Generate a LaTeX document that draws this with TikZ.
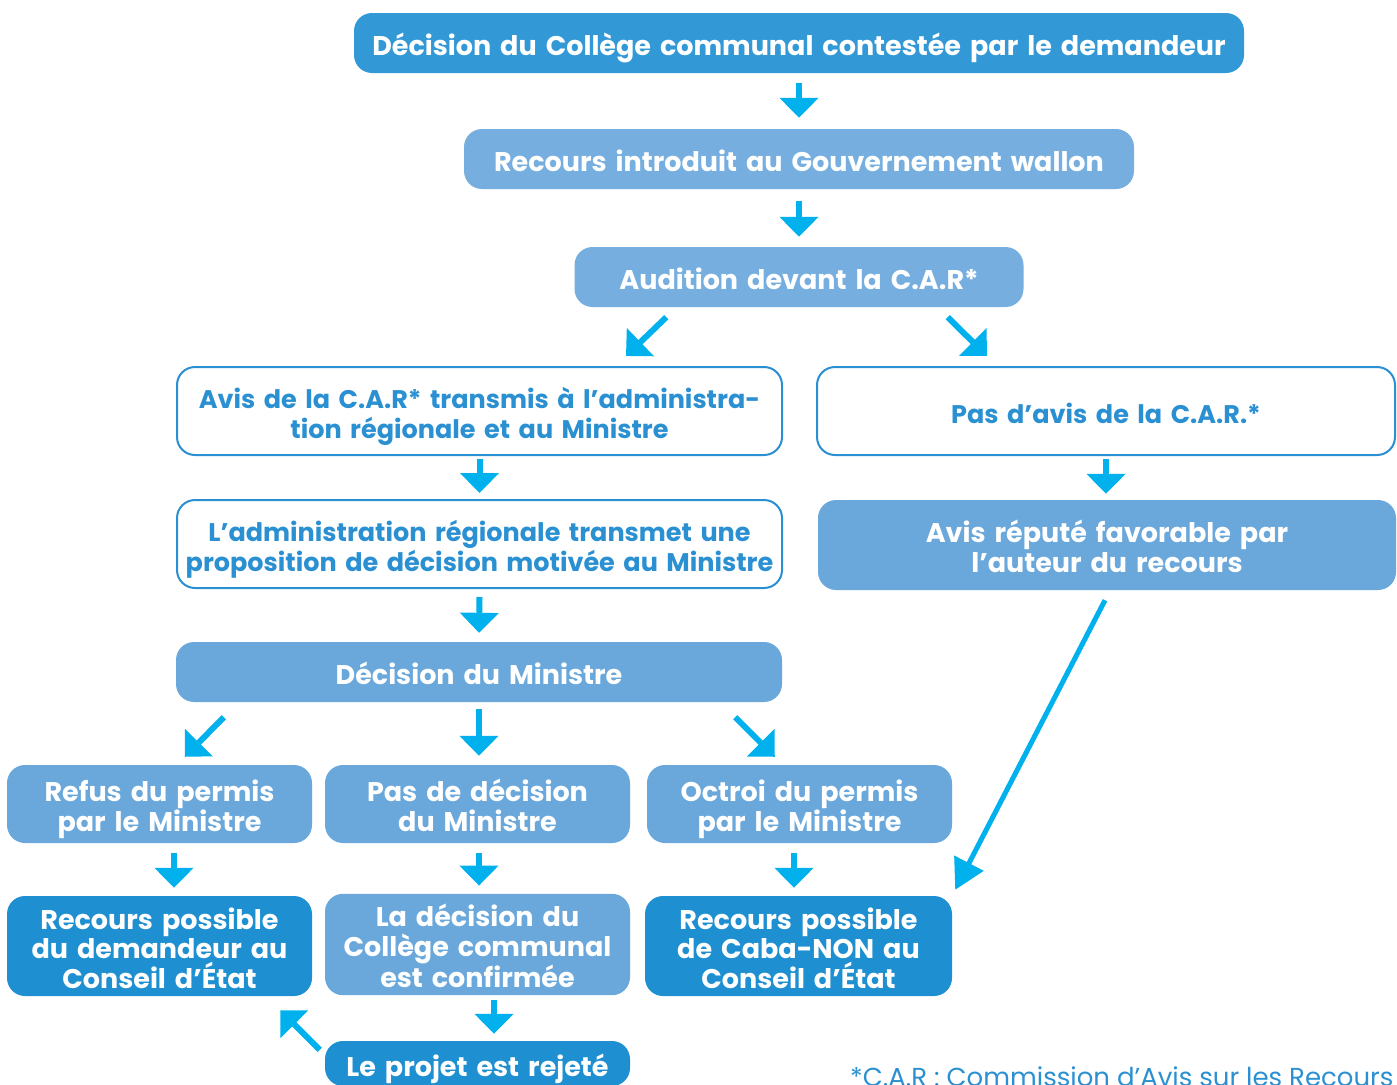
\documentclass[tikz,border=0pt]{standalone}
\usepackage{fontspec}
\setmainfont{Poppins}
\usetikzlibrary{arrows.meta,calc}

\definecolor{topblue}{HTML}{3399D6}
\definecolor{paleblue}{HTML}{76AFDF}
\definecolor{midblue}{HTML}{6AA8DC}
\definecolor{deepblue}{HTML}{1E8FD0}
\definecolor{lineblue}{HTML}{2A90D2}
\definecolor{arrowblue}{HTML}{00B1EE}
\newcommand{\boxfont}{\fontsize{27}{29.5}\selectfont\bfseries}
\newcommand{\framefont}{\fontsize{25.5}{29.5}\selectfont\bfseries}

\begin{document}
\begin{tikzpicture}[x=1pt,y=-1pt,
	box/.style={rectangle,rounded corners=18pt,inner sep=0pt,align=center,
		text width=\pgfkeysvalueof{/pgf/minimum width}-2,
		execute at begin node={\hyphenpenalty=10000\rule{0pt}{33pt}},
		execute at end node={\rule[-8pt]{0pt}{8pt}},
		text=white,font=\boxfont},
	filled/.style={box,fill=#1},
	outlined/.style={box,draw=lineblue,line width=2pt,fill=white,text=lineblue,
		font=\framefont},
	arr/.style={line width=6pt,arrowblue,-{Triangle[width=38pt,length=20pt]}},
	longarr/.style={line width=5pt,arrowblue,-{Triangle[width=32pt,length=30pt]}}]
	\useasboundingbox (0,0) rectangle (1397,1084);
	% upper part
	\node[filled=topblue,minimum width=890,minimum height=60] (top) at (799,43)
		{Décision du Collège communal contestée par le demandeur};
	\node[filled=paleblue,minimum width=670,minimum height=60] (intro) at (799,159)
		{Recours introduit au Gouvernement wallon};
	\node[filled=paleblue,minimum width=449,minimum height=60] (aud) at (799,277)
		{Audition devant la C.A.R*};
	\node[outlined,minimum width=605,minimum height=88] (avis) at (479.5,411)
		{Avis de la C.A.R* transmis à l’administra-\\tion régionale et au Ministre};
	\node[outlined,minimum width=578,minimum height=88] (pasavis) at (1106,411)
		{Pas d’avis de la C.A.R.*};
	\node[outlined,minimum width=605,minimum height=88] (admin) at (479.5,544)
		{L’administration régionale transmet une\\proposition de décision motivée au Ministre};
	\node[filled=midblue,minimum width=578,minimum height=90] (repute) at (1107,545)
		{Avis réputé favorable par\\l’auteur du recours};
	\node[filled=midblue,minimum width=606,minimum height=60] (dec) at (479,672)
		{Décision du Ministre};
	% lower part
	\node[filled=midblue,minimum width=305,minimum height=78] (refus) at (159.5,804)
		{Refus du permis\\par le Ministre};
	\node[filled=midblue,minimum width=305,minimum height=78] (pasdec) at (477.5,804)
		{Pas de décision\\du Ministre};
	\node[filled=midblue,minimum width=305,minimum height=78] (octroi) at (799.5,804)
		{Octroi du permis\\par le Ministre};
	\node[filled=deepblue,minimum width=305,minimum height=100] (recdem) at (159.5,946)
		{Recours possible\\du demandeur au\\Conseil d’État};
	\node[filled=midblue,minimum width=305,minimum height=97] (conf) at (477.5,944.5)
		{La décision du\\Collège communal\\est confirmée};
	\node[filled=deepblue,minimum width=307,minimum height=100] (reccaba) at (798.5,946)
		{Recours possible\\de Caba-NON au\\Conseil d’État};
	\node[filled=deepblue,minimum width=305,minimum height=45] (rejete) at (477.5,1063.5)
		{Le projet est rejeté};
	\node[anchor=base west,text=lineblue,font=\fontsize{26}{28}\selectfont,inner sep=0pt]
		(note) at (850,1086) {*C.A.R : Commission d’Avis sur les Recours};

	\draw[arr] ($(top.south)+(0,10)$) -- ($(intro.north)+(0,-11)$);
	\draw[arr] ($(intro.south)+(0,12)$) -- ($(aud.north)+(0,-10)$);
	\draw[arr] ($(aud.south west)+(92,10)$) -- ($(avis.north west)+(450,-10)$);
	\draw[arr] ($(aud.south east)+(-76,10)$) -- ($(pasavis.north west)+(171,-10)$);
	\draw[arr] ($(avis.south)+(0,3)$) -- ($(admin.north)+(0,-6)$);
	\draw[arr] ($(pasavis.south)+(0,3)$) -- ($(repute.north)+(-1,-6)$);
	\draw[arr] ($(admin.south)+(0,8)$) -- ($(dec.north)+(0,-9)$);
	\draw[arr] ($(dec.south west)+(48,15)$) -- ($(refus.north west)+(178,-8)$);
	\draw[arr] ($(dec.south)+(0,7)$) -- ($(pasdec.north)+(1.5,-9)$);
	\draw[arr] ($(dec.south east)+(-47,15)$) -- ($(octroi.north west)+(128,-8)$);
	\draw[arr] ($(refus.south)+(14.5,10)$) -- ($(recdem.north)+(14.5,-8)$);
	\draw[arr] ($(pasdec.south)+(1.5,10)$) -- ($(conf.north)+(1.5,-8)$);
	\draw[arr] ($(octroi.south)+(-5.5,10)$) -- ($(reccaba.north)+(-4.5,-8)$);
	\draw[arr] ($(conf.south)+(16.5,5)$) -- ($(rejete.north)+(16.5,-7)$);
	\draw[arr] ($(rejete.north west)+(-5,9)$) -- ($(recdem.south east)+(-32,14)$);
	\draw[longarr] ($(repute.south)+(-2,10)$) -- ($(reccaba.north east)+(3,-6)$);
\end{tikzpicture}
\end{document}
